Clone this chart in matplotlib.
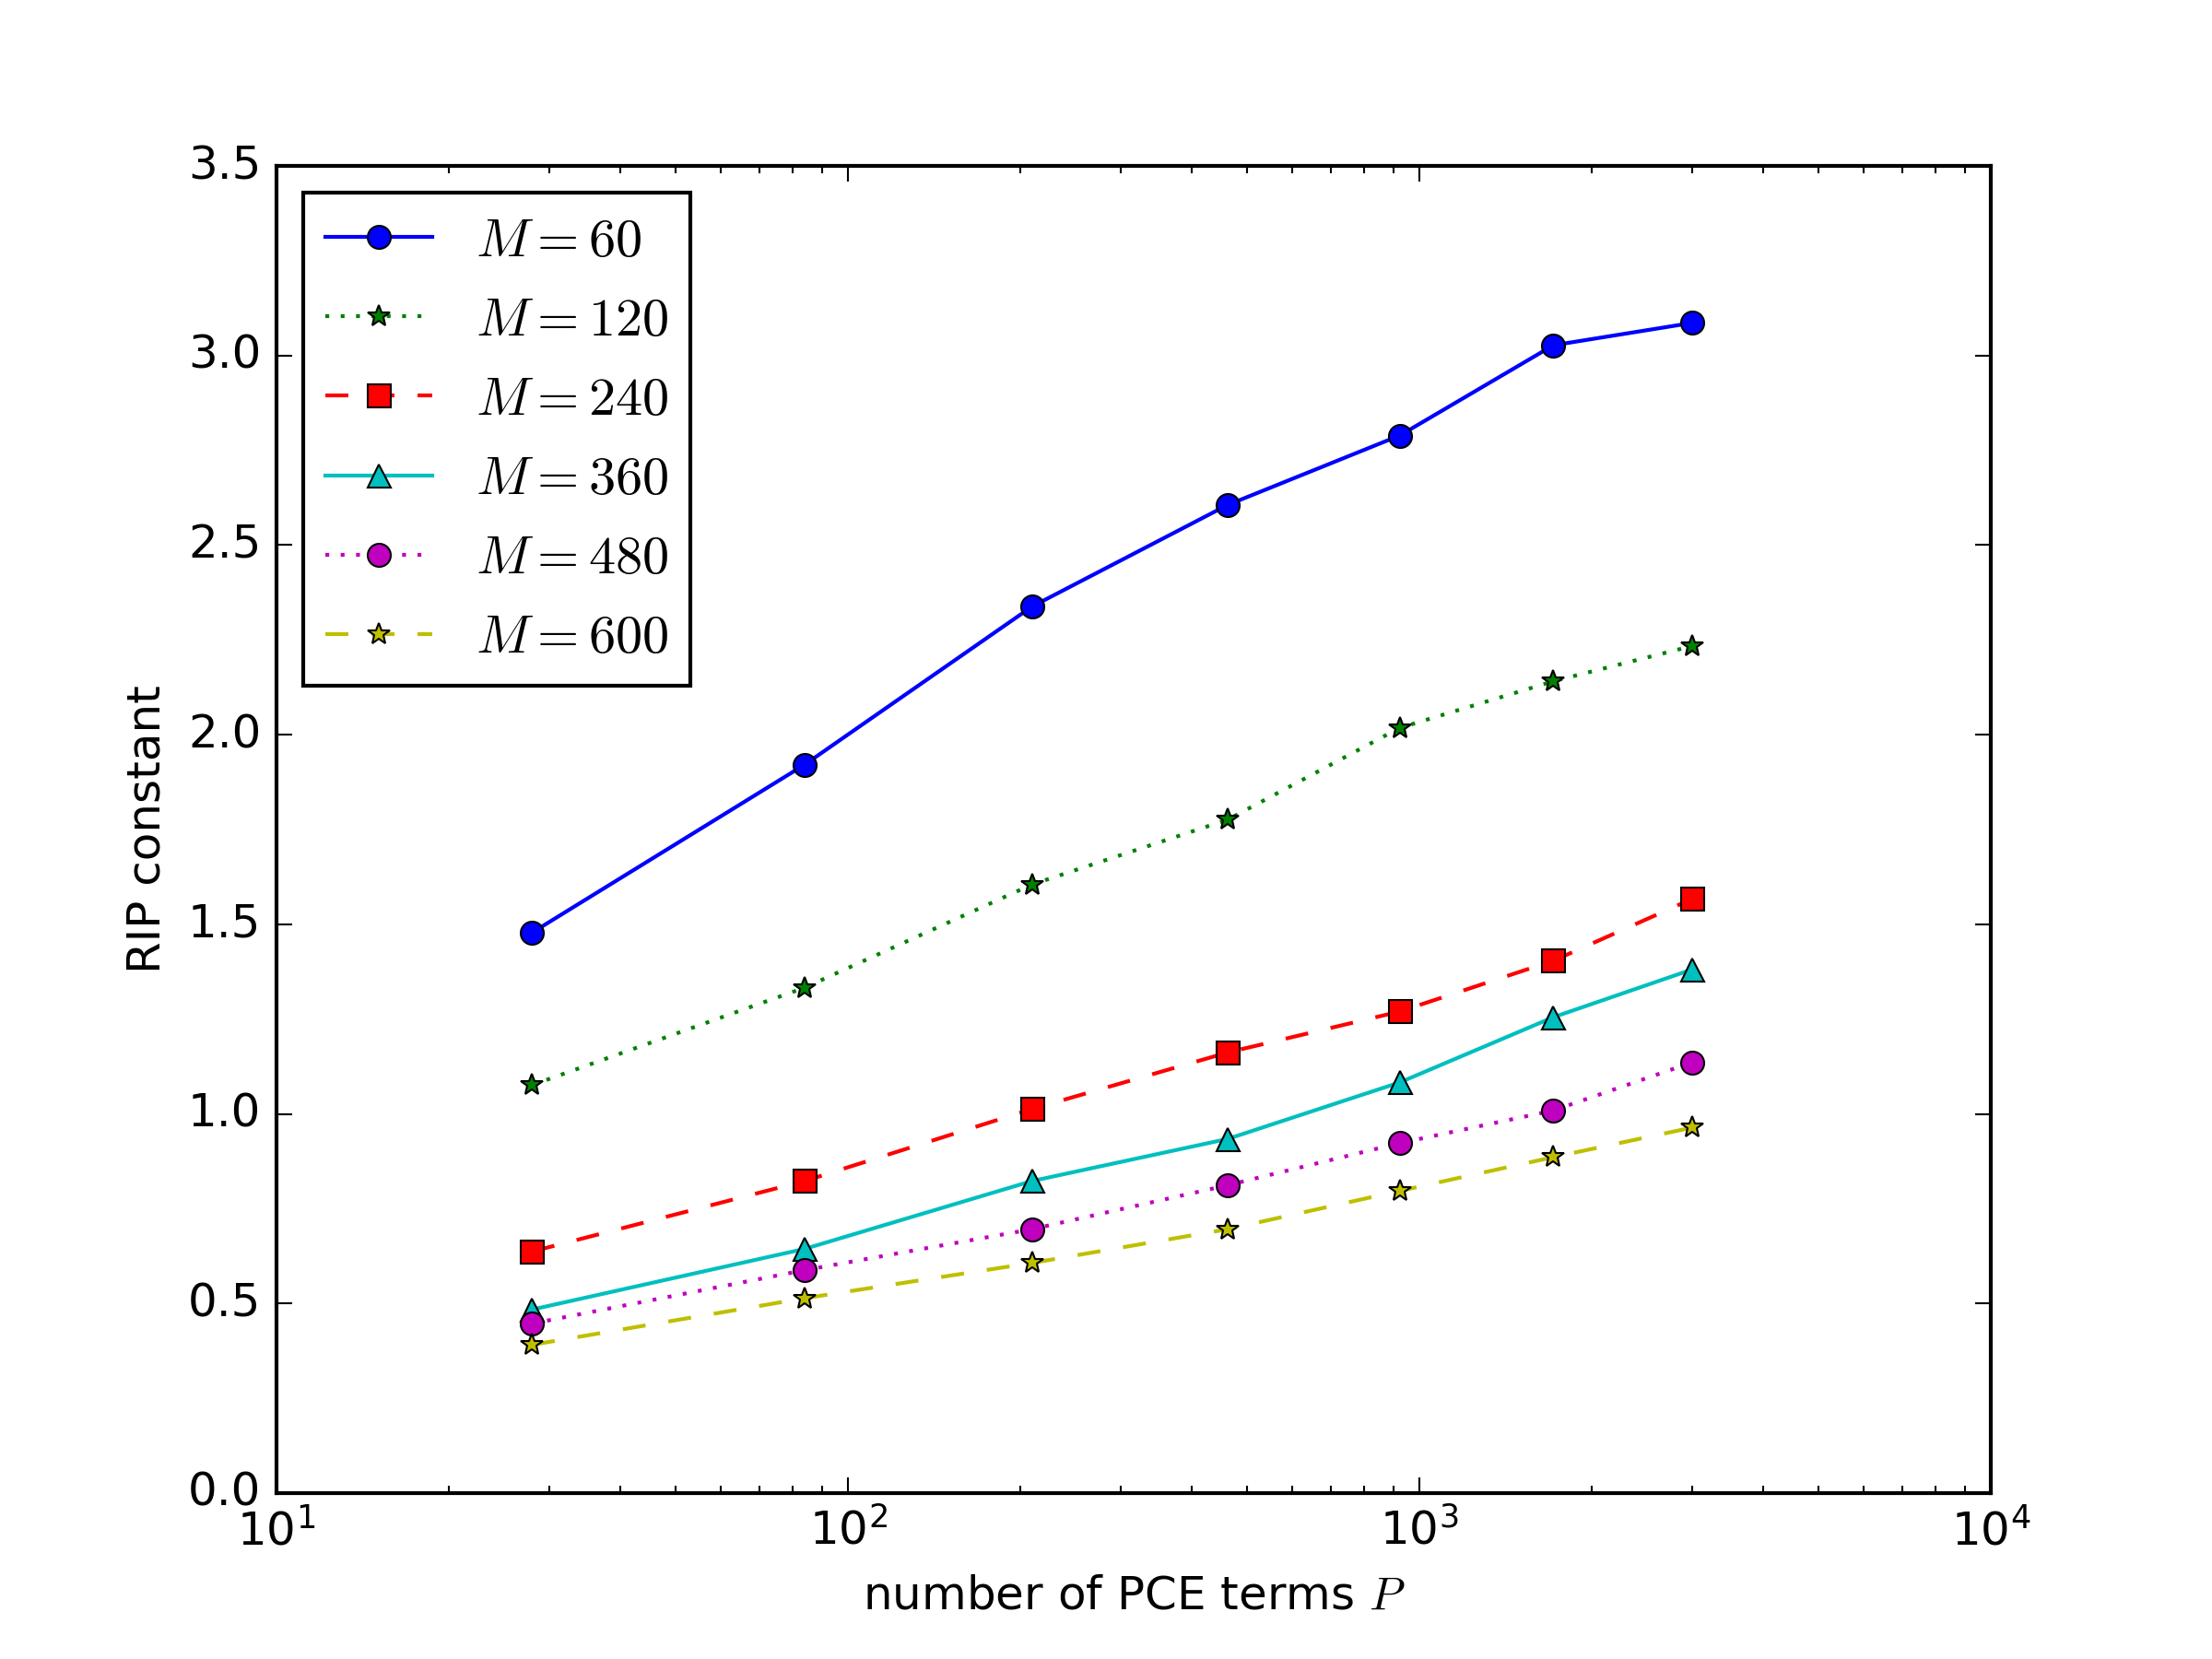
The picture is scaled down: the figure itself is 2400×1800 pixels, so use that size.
import matplotlib
matplotlib.use('Agg')
import matplotlib.pyplot as plt

plt.style.use('classic')

# number of PCE terms P and RIP constants for each M
P = [28, 84, 210, 462, 924, 1716, 3003]
M_values = [60, 120, 240, 360, 480, 600]

rip_60 = [1.478, 1.921, 2.338, 2.606, 2.789, 3.027, 3.086]
rip_120 = [1.076, 1.333, 1.605, 1.776, 2.018, 2.141, 2.234]
rip_240 = [0.637, 0.823, 1.013, 1.162, 1.270, 1.404, 1.567]
rip_360 = [0.484, 0.644, 0.823, 0.934, 1.083, 1.255, 1.381]
rip_480 = [0.447, 0.588, 0.696, 0.812, 0.923, 1.009, 1.136]
rip_600 = [0.391, 0.514, 0.607, 0.696, 0.797, 0.886, 0.964]

rips = [rip_60, rip_120, rip_240, rip_360, rip_480, rip_600]
styles = ['bo-', 'g*:', 'rs--', 'c^-', 'mo:', 'y*--']

fig = plt.figure(figsize=(8, 6))
ax = fig.add_subplot(111)

for m, r, st in zip(M_values, rips, styles):
    ax.semilogx(P, r, st, label=r'$M=%d$' % m)

ax.set_xlim(10, 1e4)
ax.set_ylim(0, 3.5)
ax.set_xlabel(r'number of PCE terms $P$')
ax.set_ylabel('RIP constant')
ax.legend(loc='upper left', numpoints=1, prop={'size': 14})

fig.savefig('out.png', dpi=300)
